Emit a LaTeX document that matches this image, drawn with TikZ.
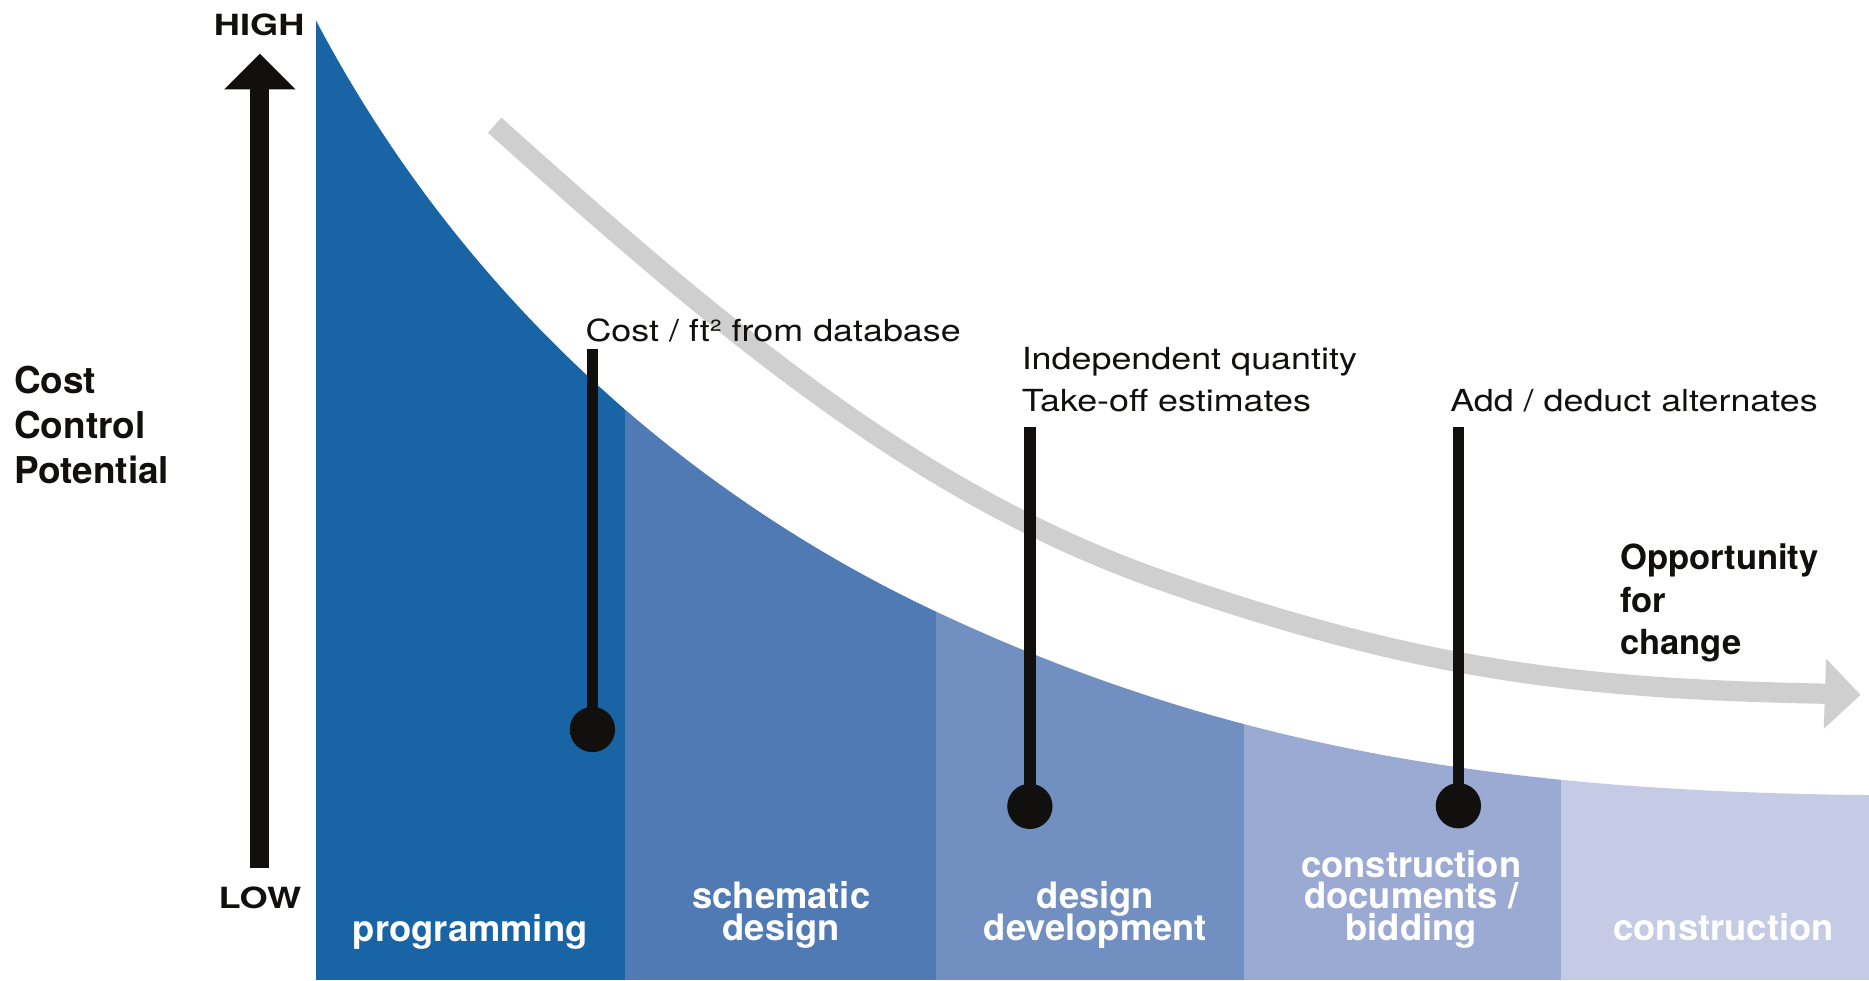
\documentclass[tikz,border=0pt]{standalone}
\usepackage{fontspec}
\usepackage{graphicx}
\setmainfont{TeX Gyre Heros}
\usetikzlibrary{arrows.meta}
\definecolor{ink}{RGB}{18,16,14}
\definecolor{segA}{RGB}{24,100,164}
\definecolor{segB}{RGB}{80,122,180}
\definecolor{segC}{RGB}{114,143,194}
\definecolor{segD}{RGB}{155,170,211}
\definecolor{segE}{RGB}{197,202,229}
\definecolor{band}{RGB}{207,207,207}
\newcommand\mywide[1]{\scalebox{1.18}[1]{#1}}
\newcommand\myaxis[1]{\scalebox{1.24}[1]{#1}}
\newcommand\mysegfont{\bfseries\fontsize{30.5}{26.5}\selectfont\setlength{\lineskiplimit}{-100pt}}
\tikzset{
  lbl/.style={anchor=base west, inner sep=0pt, text=ink, font=\fontsize{25.5}{25.5}\selectfont},
  blbl/.style={anchor=base west, inner sep=0pt, text=ink, font=\bfseries\fontsize{31}{31}\selectfont},
  olbl/.style={anchor=base west, inner sep=0pt, text=ink, font=\bfseries\fontsize{29}{29}\selectfont},
  axislbl/.style={anchor=base, inner sep=0pt, text=ink, font=\bfseries\fontsize{24.5}{24.5}\selectfont},
  seglbl/.style={anchor=base, inner sep=0pt, align=center, text=white, font=\mysegfont},
  dot/.style={circle, fill=ink, minimum size=38pt, inner sep=0pt},
  pinline/.style={line width=9.5pt, draw=ink},
}
\begin{document}
\begin{tikzpicture}[x=1pt,y=-1pt]
\useasboundingbox (0,0) rectangle (1568,822.2);
% blue staged area under the curve
\begin{scope}
\clip (265,17) .. controls (395,264) and (595,423.7) .. (785,513)
  .. controls (1035,630.5) and (1268,664) .. (1568,667)
  -- (1568,822.2) -- (265,822.2) -- cycle;
\fill[segA] (265,0) rectangle (524.5,822.2);
\fill[segB] (524.5,0) rectangle (785,822.2);
\fill[segC] (785,0) rectangle (1044,822.2);
\fill[segD] (1044,0) rectangle (1310,822.2);
\fill[segE] (1310,0) rectangle (1568,822.2);
\end{scope}
% grey arrow: opportunity for change
\coordinate (gs) at (415,105);
\coordinate (gm) at (975,487);
\coordinate (gh) at (1531,582);
\coordinate (ge) at (1561,583);
\draw[band, line width=17pt, -{Triangle[width=57pt,length=30pt]}]
  (gs) .. controls (615,285) and (775,417) .. (gm)
  .. controls (1195,564) and (1331,578) .. (gh) -- (ge);
% vertical axis arrow
\coordinate (axbot) at (218,728);
\coordinate (axtop) at (218,45);
\draw[ink, line width=16pt, -{Triangle[width=58pt,length=30pt]}] (axbot) -- (axtop);
\node[axislbl] (high) at (217.5,29.4) {\myaxis{HIGH}};
\node[axislbl] (low) at (218,762) {\myaxis{LOW}};
% left title
\node[blbl] (t1) at (11.7,330) {Cost};
\node[blbl] (t2) at (11.7,367.7) {Control};
\node[blbl] (t3) at (11.7,405.5) {Potential};
% pins
\coordinate (p1) at (497,293);
\coordinate (p2) at (864,358);
\coordinate (p3) at (1223.5,358);
\node[dot] (d1) at (497,612) {};
\node[dot] (d2) at (864,676.5) {};
\node[dot] (d3) at (1223.5,676) {};
\draw[pinline] (p1) -- (d1.center);
\draw[pinline] (p2) -- (d2.center);
\draw[pinline] (p3) -- (d3.center);
\node[lbl] (l1) at (491,286.5) {\mywide{Cost / ft² from database}};
\node[lbl] (l2a) at (857,310.4) {\mywide{Independent quantity}};
\node[lbl] (l2b) at (857,345.4) {\mywide{Take-off estimates}};
\node[lbl] (l3) at (1216.5,345.4) {\mywide{Add / deduct alternates}};
% opportunity label
\node[olbl] (o1) at (1359,478) {Opportunity};
\node[olbl] (o2) at (1359,514) {for};
\node[olbl] (o3) at (1359,549.5) {change};
% phase labels (anchored at the baseline of the last line)
\node[seglbl] (s1) at (394.5,790) {programming};
\node[seglbl] (s2) at (655.5,789) {schematic\\design};
\node[seglbl] (s3) at (919,789) {design\\development};
\node[seglbl] (s4) at (1184,789) {construction\\documents /\\bidding};
\node[seglbl] (s5) at (1446,789) {construction};
\end{tikzpicture}
\end{document}
